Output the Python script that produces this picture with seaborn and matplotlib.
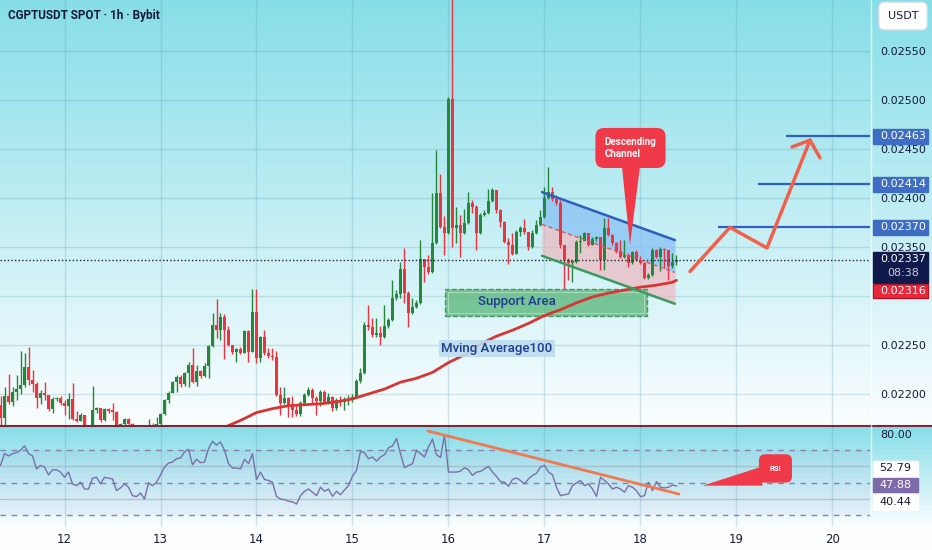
import numpy as np
import matplotlib
matplotlib.use("Agg")
import matplotlib.pyplot as plt
from matplotlib.patches import Rectangle, Polygon
from matplotlib.lines import Line2D
from matplotlib.transforms import blended_transform_factory
import seaborn as sns

### values (1h candles, first one on the 11th at 08:00)
start_day = 11 + 8 / 24
first_open = 0.02189

close = [
    0.02175, 0.02198, 0.02192, 0.02202, 0.02205, 0.02209, 0.02228, 0.02214, 0.02210, 0.02196,
    0.02201, 0.02199, 0.02185, 0.02195, 0.02196, 0.02191, 0.02188, 0.02195, 0.02174, 0.02172,
    0.02179, 0.02166, 0.02163, 0.02184, 0.02186, 0.02173, 0.02185, 0.02183, 0.02182, 0.02168,
    0.02169, 0.02174, 0.02169, 0.02166, 0.02161, 0.02160, 0.02162, 0.02168, 0.02166, 0.02169,
    0.02180, 0.02194, 0.02201, 0.02212, 0.02217, 0.02210, 0.02221, 0.02230, 0.02212, 0.02223,
    0.02218, 0.02229, 0.02249, 0.02270, 0.02265, 0.02279, 0.02265, 0.02250, 0.02243, 0.02246,
    0.02242, 0.02264, 0.02243, 0.02284, 0.02237, 0.02258, 0.02242, 0.02239, 0.02238, 0.02199,
    0.02191, 0.02196, 0.02187, 0.02184, 0.02180, 0.02191, 0.02199, 0.02204, 0.02196, 0.02193,
    0.02202, 0.02192, 0.02197, 0.02186, 0.02194, 0.02192, 0.02194, 0.02195, 0.02197, 0.02213,
    0.02221, 0.02270, 0.02268, 0.02260, 0.02262, 0.02258, 0.02269, 0.02275, 0.02298, 0.02302,
    0.02328, 0.02303, 0.02283, 0.02289, 0.02293, 0.02338, 0.02330, 0.02324, 0.02354, 0.02405,
    0.02370, 0.02364, 0.02501, 0.02369, 0.02372, 0.02364, 0.02374, 0.02395, 0.02391, 0.02364,
    0.02383, 0.02385, 0.02397, 0.02408, 0.02388, 0.02375, 0.02355, 0.02352, 0.02343, 0.02365,
    0.02369, 0.02365, 0.02350, 0.02364, 0.02372, 0.02381, 0.02400, 0.02406, 0.02399, 0.02395,
    0.02352, 0.02337, 0.02334, 0.02335, 0.02355, 0.02356, 0.02364, 0.02352, 0.02358, 0.02360,
    0.02337, 0.02369, 0.02362, 0.02354, 0.02346, 0.02340, 0.02342, 0.02334, 0.02345, 0.02337,
    0.02334, 0.02318, 0.02321, 0.02347, 0.02340, 0.02348, 0.02347, 0.02331, 0.02335, 0.02337,
]
high = [
    0.02198, 0.02207, 0.02220, 0.02207, 0.02219, 0.02244, 0.02242, 0.02248, 0.02224, 0.02212,
    0.02204, 0.02212, 0.02199, 0.02197, 0.02197, 0.02198, 0.02194, 0.02201, 0.02211, 0.02183,
    0.02181, 0.02179, 0.02168, 0.02208, 0.02187, 0.02186, 0.02186, 0.02186, 0.02191, 0.02183,
    0.02170, 0.02175, 0.02175, 0.02170, 0.02167, 0.02163, 0.02165, 0.02174, 0.02170, 0.02176,
    0.02181, 0.02195, 0.02203, 0.02213, 0.02219, 0.02219, 0.02222, 0.02233, 0.02247, 0.02230,
    0.02224, 0.02232, 0.02250, 0.02283, 0.02297, 0.02283, 0.02282, 0.02269, 0.02249, 0.02247,
    0.02248, 0.02265, 0.02265, 0.02307, 0.02307, 0.02259, 0.02265, 0.02247, 0.02247, 0.02244,
    0.02207, 0.02207, 0.02197, 0.02198, 0.02190, 0.02193, 0.02201, 0.02207, 0.02206, 0.02198,
    0.02204, 0.02204, 0.02201, 0.02198, 0.02196, 0.02198, 0.02197, 0.02199, 0.02200, 0.02215,
    0.02226, 0.02273, 0.02291, 0.02278, 0.02278, 0.02269, 0.02291, 0.02278, 0.02316, 0.02306,
    0.02335, 0.02349, 0.02305, 0.02298, 0.02296, 0.02357, 0.02338, 0.02342, 0.02405, 0.02449,
    0.02424, 0.02382, 0.02503, 0.02615, 0.02391, 0.02383, 0.02389, 0.02406, 0.02398, 0.02393,
    0.02385, 0.02388, 0.02409, 0.02410, 0.02408, 0.02389, 0.02376, 0.02359, 0.02364, 0.02367,
    0.02371, 0.02379, 0.02365, 0.02367, 0.02378, 0.02388, 0.02411, 0.02432, 0.02411, 0.02403,
    0.02398, 0.02352, 0.02339, 0.02337, 0.02357, 0.02362, 0.02365, 0.02362, 0.02360, 0.02361,
    0.02359, 0.02380, 0.02380, 0.02363, 0.02355, 0.02357, 0.02357, 0.02344, 0.02346, 0.02347,
    0.02341, 0.02335, 0.02323, 0.02349, 0.02348, 0.02350, 0.02349, 0.02347, 0.02344, 0.02342,
]
low = [
    0.02166, 0.02166, 0.02190, 0.02188, 0.02194, 0.02200, 0.02207, 0.02209, 0.02202, 0.02186,
    0.02190, 0.02194, 0.02183, 0.02181, 0.02193, 0.02189, 0.02179, 0.02174, 0.02173, 0.02171,
    0.02172, 0.02165, 0.02161, 0.02163, 0.02181, 0.02171, 0.02172, 0.02181, 0.02173, 0.02167,
    0.02166, 0.02168, 0.02168, 0.02165, 0.02158, 0.02157, 0.02159, 0.02160, 0.02165, 0.02165,
    0.02166, 0.02179, 0.02191, 0.02202, 0.02202, 0.02207, 0.02208, 0.02207, 0.02211, 0.02208,
    0.02216, 0.02217, 0.02216, 0.02248, 0.02257, 0.02255, 0.02236, 0.02249, 0.02241, 0.02233,
    0.02241, 0.02242, 0.02233, 0.02243, 0.02232, 0.02233, 0.02240, 0.02237, 0.02235, 0.02198,
    0.02179, 0.02190, 0.02176, 0.02176, 0.02178, 0.02178, 0.02189, 0.02198, 0.02191, 0.02179,
    0.02188, 0.02190, 0.02190, 0.02183, 0.02184, 0.02188, 0.02184, 0.02189, 0.02192, 0.02196,
    0.02211, 0.02220, 0.02265, 0.02258, 0.02258, 0.02250, 0.02257, 0.02267, 0.02274, 0.02296,
    0.02298, 0.02293, 0.02268, 0.02282, 0.02288, 0.02292, 0.02314, 0.02322, 0.02323, 0.02353,
    0.02369, 0.02342, 0.02363, 0.02350, 0.02354, 0.02340, 0.02363, 0.02373, 0.02385, 0.02347,
    0.02363, 0.02382, 0.02384, 0.02396, 0.02385, 0.02370, 0.02354, 0.02333, 0.02342, 0.02343,
    0.02361, 0.02363, 0.02347, 0.02349, 0.02363, 0.02371, 0.02380, 0.02399, 0.02397, 0.02393,
    0.02349, 0.02307, 0.02316, 0.02314, 0.02334, 0.02344, 0.02356, 0.02351, 0.02352, 0.02356,
    0.02326, 0.02326, 0.02361, 0.02352, 0.02344, 0.02339, 0.02339, 0.02330, 0.02333, 0.02336,
    0.02333, 0.02317, 0.02317, 0.02320, 0.02339, 0.02325, 0.02329, 0.02316, 0.02329, 0.02332,
]
rsi = [
    60.6, 67.9, 66.5, 67.9, 68.5, 70.0, 72.7, 67.9, 66.5, 58.5,
    60.6, 59.6, 54.8, 57.9, 57.9, 56.5, 53.3, 56.5, 49.2, 48.1,
    50.2, 46.0, 46.0, 52.7, 53.3, 49.2, 53.3, 52.7, 52.3, 45.0,
    46.7, 49.2, 47.1, 41.9, 41.3, 43.5, 39.8, 49.8, 48.1, 50.2,
    54.8, 59.6, 62.1, 62.7, 64.8, 65.2, 69.0, 70.6, 61.0, 64.4,
    62.3, 62.7, 71.0, 75.6, 73.1, 75.2, 70.0, 61.7, 59.0, 59.0,
    58.5, 64.4, 61.7, 67.9, 51.9, 56.5, 51.9, 51.3, 50.2, 41.5,
    39.8, 39.4, 38.5, 38.1, 36.7, 41.9, 44.6, 46.0, 44.0, 41.9,
    47.1, 44.6, 46.0, 41.5, 44.6, 42.5, 45.4, 48.1, 54.0, 57.5,
    69.4, 68.5, 64.8, 65.8, 63.3, 65.8, 67.3, 71.5, 72.7, 77.3,
    67.9, 59.2, 60.6, 61.7, 70.0, 67.9, 65.8, 72.1, 76.9, 67.3,
    65.4, 79.4, 56.5, 56.5, 56.5, 57.1, 59.2, 57.9, 54.4, 56.5,
    56.9, 58.5, 60.0, 56.5, 53.8, 50.6, 50.2, 47.7, 51.9, 52.9,
    51.3, 49.2, 52.3, 54.4, 55.8, 59.6, 60.6, 56.5, 54.8, 47.1,
    41.9, 42.5, 42.9, 48.1, 49.8, 51.3, 48.1, 49.2, 46.0, 41.5,
    53.3, 51.3, 49.2, 46.0, 47.1, 46.0, 44.0, 48.1, 47.1, 45.0,
    41.3, 41.9, 50.2, 45.0, 50.6, 47.1, 46.7, 47.1, 48.5, 47.9,
]
# moving average 100, read at every fourth candle
ma_idx = [56, 60, 64, 68, 72, 76, 80, 84, 88, 92, 96, 100, 104, 108, 112,
          116, 120, 124, 128, 132, 136, 140, 144, 148, 152, 156, 160, 164, 168, 169]
ma_val = [0.02166, 0.02173, 0.02181, 0.02185, 0.02188, 0.02189, 0.02190, 0.02192,
          0.02195, 0.02200, 0.02205, 0.02212, 0.02216, 0.02222, 0.02232, 0.02240,
          0.02251, 0.02259, 0.02265, 0.02272, 0.02280, 0.02286, 0.02293, 0.02299,
          0.02303, 0.02306, 0.02309, 0.02311, 0.02314, 0.02316]

price_ticks = [0.0220, 0.0225, 0.0230, 0.0235, 0.0240, 0.0245, 0.0250, 0.0255]
hidden_tick = 0.0230   # sits under the MA tag on the scale
day_ticks = [12, 13, 14, 15, 16, 17, 18, 19, 20]
last_price = 0.02337
ma_last = 0.02316
rsi_band_top, rsi_band_mid, rsi_band_low = 52.79, 47.88, 40.44

# drawings on the chart
targets = [0.02370, 0.02414, 0.02463]
target_from = [18.807, 19.224, 19.516]
channel_days = [16.974, 18.359]
channel_upper = [0.02406, 0.02357]
channel_mid = [0.02373, 0.02324]
channel_lower = [0.02341, 0.02292]
support_days = [15.964, 18.068]
support_prices = [0.02280, 0.02307]
path_days = [18.516, 18.932, 19.318, 19.766]
path_prices = [0.02325, 0.02370, 0.02349, 0.02459]
head_days = [19.578, 19.766, 19.870]
head_prices = [0.02452, 0.02459, 0.02441]
callout_tip_days = [17.807, 17.995, 17.891]
callout_tip_prices = [0.02432, 0.02432, 0.02352]
callout_center = (17.896, 0.02451)
rsi_trend_days = [15.786, 18.401]
rsi_trend_vals = [81.9, 42.9]
rsi_levels = [70, 50, 30]
rsi_grid = [40, 60]
rsi_wedge_days = [18.651, 19.27, 19.27]
rsi_wedge_vals = [48.1, 60.0, 48.1]
rsi_box_center = (19.406, 58.75)

### styling
sns.set_theme(style="white")
plt.rcParams["font.family"] = ["DejaVu Sans"]

GREEN = "#24873a"
RED = "#f0323e"
NAVY = "#131a3a"
GRID = "#4a8ea0"
XMIN, XMAX = 11.328, 20.391
YMIN, YMAX = 0.021673, 0.02602

t = start_day + np.arange(len(close)) / 24
c = np.array(close)
o = np.r_[first_open, c[:-1]]
h = np.maximum(np.array(high), np.maximum(o, c))
lo = np.minimum(np.array(low), np.minimum(o, c))
up = c >= o
colors = np.where(up, GREEN, RED)

fig = plt.figure(figsize=(9.32, 5.5), dpi=100)

# gradient backdrop, cyan to white in each pane
W, H = 932, 550
rows = np.arange(H)
top = np.array([0.53, 0.87, 0.91])
white = np.array([0.985, 0.995, 1.0])
frac = np.ones(H)
frac[:427] = rows[:427] / 426
frac[427:528] = (rows[427:528] - 427) / 100
grad = top[None, :] * (1 - frac[:, None]) + white[None, :] * frac[:, None]
bg = fig.add_axes([0, 0, 1, 1], zorder=-10)
bg.imshow(grad[:, None, :], aspect="auto", extent=[0, 1, 0, 1])
bg.axis("off")

ax = fig.add_axes([0, 1 - 426 / H, 870 / W, 426 / H])
rx = fig.add_axes([0, 1 - 527 / H, 870 / W, 100 / H])
for a in (ax, rx):
    a.patch.set_alpha(0)
    for s in a.spines.values():
        s.set_visible(False)
    for d in day_ticks:
        a.axvline(d, color=GRID, alpha=0.22, lw=1, zorder=0)

for p in price_ticks:
    ax.axhline(p, color=GRID, alpha=0.22, lw=1, zorder=0)

# channel and support zone sit behind the candles
ax.fill_between(channel_days, channel_upper, channel_mid, color="#8cc4f4", alpha=0.8, lw=0, zorder=1)
ax.fill_between(channel_days, channel_mid, channel_lower, color="#f2b4bc", alpha=0.65, lw=0, zorder=1)
ax.add_patch(Rectangle((support_days[0], support_prices[0]), support_days[1] - support_days[0],
                       support_prices[1] - support_prices[0], fc="#6cbf8c", ec="#3d8d5e",
                       ls="--", lw=1, alpha=0.9, zorder=1.2))
ax.add_patch(Rectangle((support_days[0] + 0.03, support_prices[0] + 0.00003),
                       support_days[1] - support_days[0] - 0.06,
                       support_prices[1] - support_prices[0] - 0.00006,
                       fc="none", ec="#a6dab6", lw=0.8, zorder=1.3))

# candles
ax.vlines(t, lo, h, colors=colors, lw=1, zorder=2)
body = np.maximum(np.abs(c - o), 0.000012)
ax.bar(t, body, bottom=np.minimum(o, c), width=0.85 / 24, color=colors, lw=0, zorder=2.1)

# moving average
sns.lineplot(x=t[ma_idx], y=ma_val, ax=ax, color="#d83434", lw=2, zorder=3)

ax.axhline(last_price, color="#1c2030", ls=(0, (1, 1.6)), lw=1, zorder=3)

ax.plot(channel_days, channel_upper, color="#2d5fbf", lw=1.8, zorder=3.5)
ax.plot(channel_days, channel_mid, color="#e05656", lw=1, ls=(0, (3, 2)), zorder=3.5)
ax.plot(channel_days, channel_lower, color="#3a9a60", lw=1.8, zorder=3.5)

ax.hlines(targets, target_from, XMAX, color="#2f5fbf", lw=1.6, zorder=3.5)
ax.plot(path_days, path_prices, color="#f2604c", lw=2.5, solid_capstyle="round", zorder=4)
ax.plot(head_days, head_prices, color="#f2604c", lw=2.5, solid_capstyle="round", zorder=4)

ax.add_patch(Polygon(list(zip(callout_tip_days, callout_tip_prices)), closed=True,
                     fc="#f03a4a", ec="none", zorder=4))
ax.text(*callout_center, "Descending\nChannel", ha="center", va="center", multialignment="left",
        color="white", fontsize=7, fontweight="bold", family="Roboto", zorder=4.5,
        bbox=dict(boxstyle="round,pad=0.95,rounding_size=0.9", fc="#f03a4a", ec="none"))

ax.text(16.714, 0.02294, "Support Area", ha="center", va="center", color="#1d3d8f",
        fontsize=9.5, family="Roboto", fontweight="medium", zorder=4)
ax.text(16.505, 0.02246, "Mving Average100", ha="center", va="center", color="#1d3d8f",
        fontsize=9.5, family="Roboto", fontweight="medium", zorder=4,
        bbox=dict(boxstyle="square,pad=0.15", fc="#bcdcef", ec="none", alpha=0.9))

ax.set_xlim(XMIN, XMAX)
ax.set_ylim(YMIN, YMAX)
ax.set_xticks([])
ax.yaxis.tick_right()
ax.set_yticks(price_ticks)
ax.set_yticklabels(["" if p == hidden_tick else f"{p:.5f}" for p in price_ticks])
ax.tick_params(axis="y", length=0, pad=7.2, labelsize=8, labelcolor=NAVY)
for lab in ax.get_yticklabels():
    lab.set_horizontalalignment("left")

# price tags on the right scale
tr = blended_transform_factory(ax.transAxes, ax.transData)
def tag(axis, trans, y0, y1, fc, ec=None, width=0.0632):
    axis.add_artist(Rectangle((1.0035, y0), width, y1 - y0, transform=trans, fc=fc,
                              ec=ec or fc, lw=1, clip_on=False, zorder=6))

for p in targets:
    tag(ax, tr, p - 0.000077, p + 0.000077, "#3e6ec4")
    ax.text(1.0379, p, f"{p:.5f}", transform=tr, ha="center", va="center", color="white",
            fontsize=8, clip_on=False, zorder=7)
tag(ax, tr, 0.02313, 0.023449, "#0f1a4a")
ax.text(1.0379, 0.023377, f"{last_price:.5f}", transform=tr, ha="center", va="center",
        color="white", fontsize=8, clip_on=False, zorder=7)
ax.text(1.0379, 0.023235, "08:38", transform=tr, ha="center", va="center",
        color="#cfc6d6", fontsize=8, clip_on=False, zorder=7)
tag(ax, tr, 0.022979, 0.023122, "#e8283c", ec="#b01828")
ax.text(1.0379, 0.02305, f"{ma_last:.5f}", transform=tr, ha="center", va="center",
        color="white", fontsize=8, clip_on=False, zorder=7)

### RSI pane
rx.axhspan(30, 70, color="#7e57c2", alpha=0.06, lw=0, zorder=0)
for lv in rsi_grid:
    rx.axhline(lv, color="#8fa4b0", alpha=0.5, lw=1, zorder=0.5)
for lv in rsi_levels:
    rx.axhline(lv, color="#8a80b0", lw=1, ls=(0, (4, 4)), zorder=1)
sns.lineplot(x=t, y=rsi, ax=rx, color="#7b6fa8", lw=1, zorder=2)
rx.plot(rsi_trend_days, rsi_trend_vals, color="#f07a50", lw=2, zorder=3)
rx.add_patch(Polygon(list(zip(rsi_wedge_days, rsi_wedge_vals)), closed=True,
                     fc="#f03a4a", ec="none", zorder=3))
rx.text(*rsi_box_center, "RSI", ha="center", va="center", color="white", fontsize=5.5,
        fontweight="bold", family="Roboto", zorder=4,
        bbox=dict(boxstyle="round,pad=1.4,rounding_size=0.8", fc="#f03a4a", ec="none"))

rx.set_xlim(XMIN, XMAX)
rx.set_ylim(22.5, 84.4)
rx.set_xticks(day_ticks)
rx.set_xticklabels([str(d) for d in day_ticks])
rx.tick_params(axis="x", length=0, pad=4, labelsize=8.5, labelcolor=NAVY)
rx.yaxis.tick_right()
rx.set_yticks([80])
rx.set_yticklabels(["80.00"])
rx.tick_params(axis="y", length=0, pad=7.2, labelsize=8, labelcolor=NAVY)
for lab in rx.get_yticklabels():
    lab.set_horizontalalignment("left")
rx.set_xlabel("")
rx.set_ylabel("")
ax.set_xlabel("")
ax.set_ylabel("")

rt = blended_transform_factory(rx.transAxes, rx.transData)
for y0, y1, yc, val, fc, tc in [(53.75, 63.1, 58.75, rsi_band_top, "white", NAVY),
                                (44.4, 53.1, 48.75, rsi_band_mid, "#7d6aa8", "white"),
                                (33.1, 43.1, 38.1, rsi_band_low, "white", NAVY)]:
    tag(rx, rt, y0, y1, fc, width=0.0517)
    rx.text(1.0293, yc, f"{val:.2f}", transform=rt, ha="center", va="center", color=tc,
            fontsize=8, clip_on=False, zorder=7)

# frame details
fig.add_artist(Line2D([0, 1], [1 - 426 / H] * 2, color="#7a2838", lw=1.5))
fig.add_artist(Line2D([871 / W] * 2, [1 - 527 / H, 1], color="white", lw=1, alpha=0.7))
fig.text(8 / W, 1 - 16 / H, "CGPTUSDT SPOT · 1h · Bybit", ha="left", va="center",
         fontsize=8.5, fontweight="bold", family="Roboto", color=NAVY)
fig.text(903 / W, 1 - 16 / H, "USDT", ha="center", va="center", fontsize=8, color=NAVY,
         bbox=dict(boxstyle="round,pad=0.8,rounding_size=0.5", fc="white", ec="#d8dde4"))

fig.savefig("out.png", dpi=100)
